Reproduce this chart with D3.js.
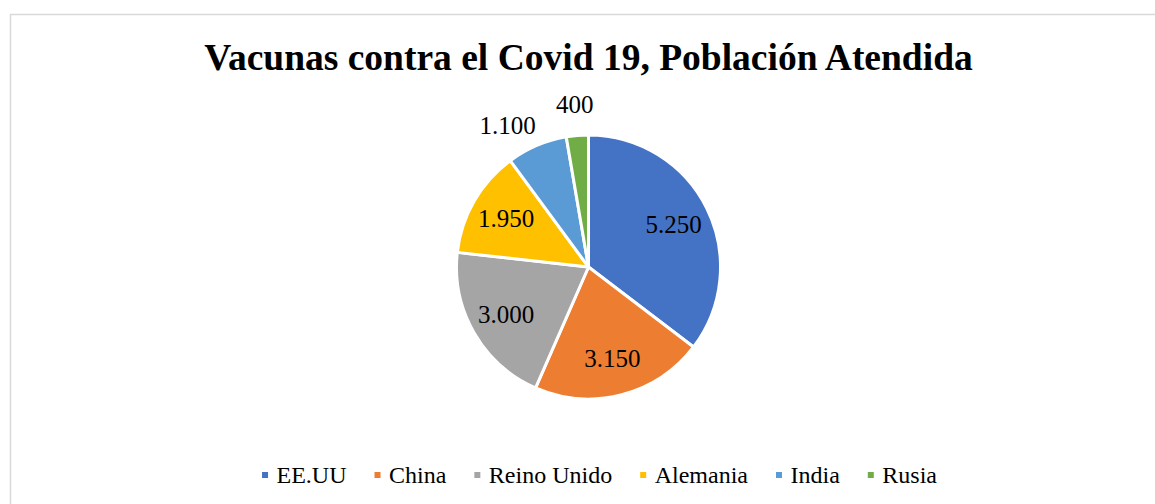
<!DOCTYPE html>
<head>
<script src="https://d3js.org/d3.v7.min.js"></script>
<style>
body { margin: 0; background: #fff; }
svg text { font-family: "Liberation Serif", "Times New Roman", serif; }
</style>
</head>
<body>
<svg></svg>
<script>
var countries = ["EE.UU", "China", "Reino Unido", "Alemania", "India", "Rusia"];
var vaccinated = [5250, 3150, 3000, 1950, 1100, 400];
var colors = ["#4472C4", "#ED7D31", "#A5A5A5", "#FFC000", "#5B9BD5", "#70AD47"];

var width = 1155, height = 504;
var cx = 588.5, cy = 267, radius = 132;

var svg = d3.select("svg").attr("width", width).attr("height", height)
    .style("display", "block");

// chart frame (right and bottom run off the page)
svg.append("rect")
    .attr("x", 10.5).attr("y", 14.5)
    .attr("width", 1200).attr("height", 600)
    .attr("fill", "#fff").attr("stroke", "#d9d9d9").attr("stroke-width", 1.5);

svg.append("text")
    .attr("x", cx).attr("y", 70)
    .attr("text-anchor", "middle")
    .style("font-size", "37.5px").style("font-weight", "bold")
    .text("Vacunas contra el Covid 19, Población Atendida");

var data = countries.map(function (c, i) { return {name: c, value: vaccinated[i]}; });
var color = d3.scaleOrdinal().domain(countries).range(colors);
var fmt = d3.formatLocale({decimal: ",", thousands: ".", grouping: [3], currency: ["", ""]}).format(",");

var pie = d3.pie().sort(null).value(function (d) { return d.value; });
var arcs = pie(data);
var arc = d3.arc().innerRadius(0).outerRadius(radius);

var g = svg.append("g").attr("transform", "translate(" + cx + "," + cy + ")");

g.selectAll("path")
    .data(arcs)
    .enter().append("path")
    .attr("d", arc)
    .attr("fill", function (d) { return color(d.data.name); })
    .attr("stroke", "#fff")
    .attr("stroke-width", 3)
    .attr("stroke-linejoin", "round");

// small slices get their label outside, the rest inside
var rIn = radius * 0.72, rOut = radius * 1.23;
function isSmall(d) { return (d.endAngle - d.startAngle) < 0.6; }
function polar(r, a) { return [r * Math.sin(a), -r * Math.cos(a)]; }

var labels = g.selectAll(".lbl")
    .data(arcs)
    .enter().append("text")
    .attr("class", "lbl")
    .attr("text-anchor", "middle")
    .attr("dy", "0.32em")
    .style("font-size", "25px")
    .attr("fill", "#000")
    .text(function (d) { return fmt(d.data.value); });

labels.each(function (d) {
    d.ang = (d.startAngle + d.endAngle) / 2;
    d.pos = polar(isSmall(d) ? rOut : rIn, d.ang);
    d3.select(this).attr("transform", "translate(" + d.pos + ")");
});

// push outside labels back (anticlockwise) while they collide with the next one
var outs = labels.filter(isSmall).nodes();
function box(n, p) {
    var b = n.getBBox();
    return {x0: p[0] - b.width / 2, x1: p[0] + b.width / 2, y0: p[1] - b.height / 2, y1: p[1] + b.height / 2};
}
for (var i = outs.length - 2; i >= 0; i--) {
    var d = d3.select(outs[i]).datum(), nd = d3.select(outs[i + 1]).datum();
    var nb = box(outs[i + 1], nd.pos);
    var guard = 0;
    while (guard++ < 100) {
        var b = box(outs[i], d.pos);
        var hit = b.x1 + 20 > nb.x0 && b.x0 < nb.x1 && b.y1 > nb.y0 + 10 && b.y0 < nb.y1;
        if (!hit) break;
        d.ang -= 0.01;
        d.pos = polar(rOut, d.ang);
    }
    d3.select(outs[i]).attr("transform", "translate(" + d.pos + ")");
}

// legend
var legend = svg.append("g").attr("transform", "translate(0,483)");
var items = legend.selectAll("g")
    .data(countries)
    .enter().append("g");
items.append("rect")
    .attr("width", 6).attr("height", 6).attr("y", -11)
    .attr("fill", function (d) { return color(d); });
items.append("text")
    .attr("x", 14.5)
    .style("font-size", "24px")
    .text(function (d) { return d; });

var x = 0, positions = [];
items.each(function () {
    positions.push(x);
    x += 14.5 + this.querySelector("text").getComputedTextLength() + 28;
});
var total = x - 28;
var start = 599.5 - total / 2;
items.attr("transform", function (d, i) { return "translate(" + (start + positions[i]) + ",0)"; });
</script>
</body>
